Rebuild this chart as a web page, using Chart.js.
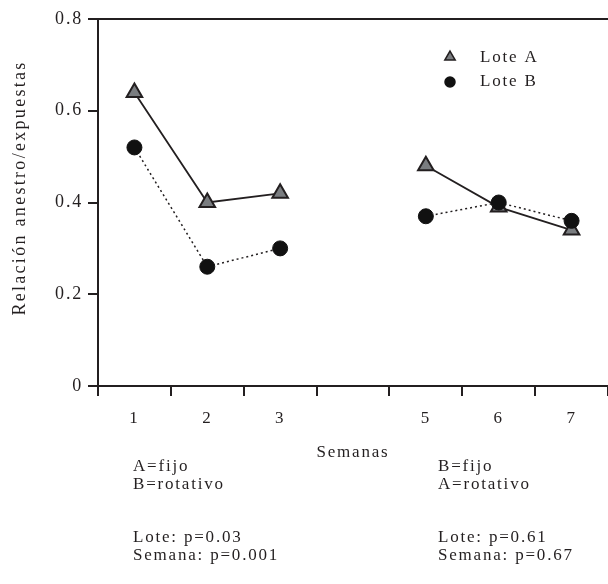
<!DOCTYPE html>
<html>
<head>
<meta charset="utf-8">
<script src="https://cdn.jsdelivr.net/npm/chart.js@4.4.1/dist/chart.umd.min.js"></script>
<style>
html,body{margin:0;padding:0;background:#fff;}
#wrap{width:608px;height:584px;position:relative;}
</style>
</head>
<body>
<div id="wrap"><canvas id="c" width="608" height="584"></canvas></div>
<script>
const weeks = ['1', '2', '3', '', '5', '6', '7'];
const loteA = [0.64, 0.40, 0.42, null, 0.48, 0.39, 0.34];
const loteB = [0.52, 0.26, 0.30, null, 0.37, 0.40, 0.36];
const yTicks = [0, 0.2, 0.4, 0.6, 0.8];
const seriesNames = ['Lote A', 'Lote B'];
const yTitle = 'Relación anestro/expuestas';
const xTitle = 'Semanas';
const notesLeftTop = ['A=fijo', 'B=rotativo'];
const notesLeftBottom = ['Lote: p=0.03', 'Semana: p=0.001'];
const notesRightTop = ['B=fijo', 'A=rotativo'];
const notesRightBottom = ['Lote: p=0.61', 'Semana: p=0.67'];

const FONT = '"Liberation Serif", "Times New Roman", serif';
const INK = '#231f20';
const SPACING = '1.8px';

const spacingPlugin = {
  id: 'spacing',
  beforeUpdate(chart) { chart.ctx.letterSpacing = SPACING; },
  beforeLayout(chart) { chart.ctx.letterSpacing = SPACING; },
  beforeDraw(chart) { chart.ctx.letterSpacing = SPACING; }
};

const framePlugin = {
  id: 'frame',
  afterDraw(chart) {
    const {ctx, chartArea} = chart;
    ctx.save();
    ctx.letterSpacing = SPACING;
    // top border line
    ctx.strokeStyle = INK;
    ctx.lineWidth = 2;
    ctx.beginPath();
    ctx.moveTo(chartArea.left - 10, chartArea.top);
    ctx.lineTo(chart.width, chartArea.top);
    ctx.stroke();

    // y axis title
    ctx.save();
    ctx.letterSpacing = '2.3px';
    ctx.font = '18px ' + FONT;
    ctx.fillStyle = INK;
    ctx.textAlign = 'center';
    ctx.textBaseline = 'middle';
    ctx.translate(20, chartArea.top + 169);
    ctx.rotate(-Math.PI / 2);
    ctx.fillText(yTitle, 0, 0);
    ctx.restore();

    // legend
    const lx = chartArea.left + 352;
    const ly = chartArea.top + 38;
    ctx.font = '17px ' + FONT;
    ctx.textBaseline = 'middle';
    ctx.textAlign = 'left';
    chart.data.datasets.forEach((ds, i) => {
      const y = ly + i * 24;
      const tri = ds.pointStyle === 'triangle';
      ctx.fillStyle = ds.pointBackgroundColor;
      ctx.strokeStyle = ds.pointBorderColor;
      ctx.lineWidth = 1.5;
      Chart.helpers.drawPoint(ctx, {pointStyle: ds.pointStyle, radius: tri ? 6 : 5, borderWidth: 1.5}, lx, y + (tri ? 0 : 1));
      ctx.fillStyle = INK;
      ctx.fillText(ds.label, lx + 30, y + 1);
    });

    // bottom notes
    ctx.font = '17px ' + FONT;
    ctx.fillStyle = INK;
    const y1 = chartArea.bottom + 81;
    const y2 = chartArea.bottom + 152;
    const xl = chartArea.left + 35;
    const xr = chartArea.left + 340;
    notesLeftTop.forEach((t, i) => ctx.fillText(t, xl, y1 + i * 18));
    notesLeftBottom.forEach((t, i) => ctx.fillText(t, xl, y2 + i * 18));
    notesRightTop.forEach((t, i) => ctx.fillText(t, xr, y1 + i * 18));
    notesRightBottom.forEach((t, i) => ctx.fillText(t, xr, y2 + i * 18));
    ctx.restore();
  }
};

new Chart(document.getElementById('c'), {
  type: 'line',
  data: {
    labels: weeks,
    datasets: [
      {
        label: seriesNames[0],
        data: loteA,
        borderColor: INK,
        borderWidth: 1.8,
        pointStyle: 'triangle',
        pointRadius: 9,
        pointHoverRadius: 9,
        pointBackgroundColor: '#7a7d80',
        pointBorderColor: INK,
        pointBorderWidth: 2,
        spanGaps: false,
        tension: 0,
        order: 1
      },
      {
        label: seriesNames[1],
        data: loteB,
        borderColor: INK,
        borderWidth: 1.5,
        borderDash: [2, 3],
        pointStyle: 'circle',
        pointRadius: 7.5,
        pointHoverRadius: 7.5,
        pointBackgroundColor: '#111',
        pointBorderColor: '#111',
        pointBorderWidth: 1,
        spanGaps: false,
        tension: 0,
        order: 0
      }
    ]
  },
  options: {
    responsive: false,
    animation: false,
    events: [],
    layout: {autoPadding: false, padding: {top: 19, right: -2, bottom: 118, left: 0}},
    plugins: {
      legend: {display: false},
      tooltip: {enabled: false}
    },
    scales: {
      x: {
        type: 'category',
        offset: true,
        grid: {offset: true, drawOnChartArea: false, drawTicks: true, tickLength: 10, color: INK, lineWidth: 2},
        border: {display: true, color: INK, width: 2},
        ticks: {color: INK, font: {family: FONT, size: 17}, padding: 12, maxRotation: 0, autoSkip: false},
        title: {display: true, text: xTitle, color: INK, font: {family: FONT, size: 17}, padding: {top: 11, bottom: 3}},
        afterFit(s) { s.height = 80; s.paddingRight = 0; s.paddingLeft = 0; }
      },
      y: {
        min: 0,
        max: 0.8,
        afterBuildTicks(s) { s.ticks = yTicks.map(v => ({value: v})); },
        grid: {drawOnChartArea: false, drawTicks: true, tickLength: 10, color: INK, lineWidth: 2},
        border: {display: true, color: INK, width: 2},
        ticks: {color: INK, font: {family: FONT, size: 18}, padding: 5, callback: v => v === 0 ? '0' : v.toFixed(1)},
        title: {display: false},
        afterFit(s) { s.width = 98; }
      }
    }
  },
  plugins: [spacingPlugin, framePlugin]
});
</script>
</body>
</html>
